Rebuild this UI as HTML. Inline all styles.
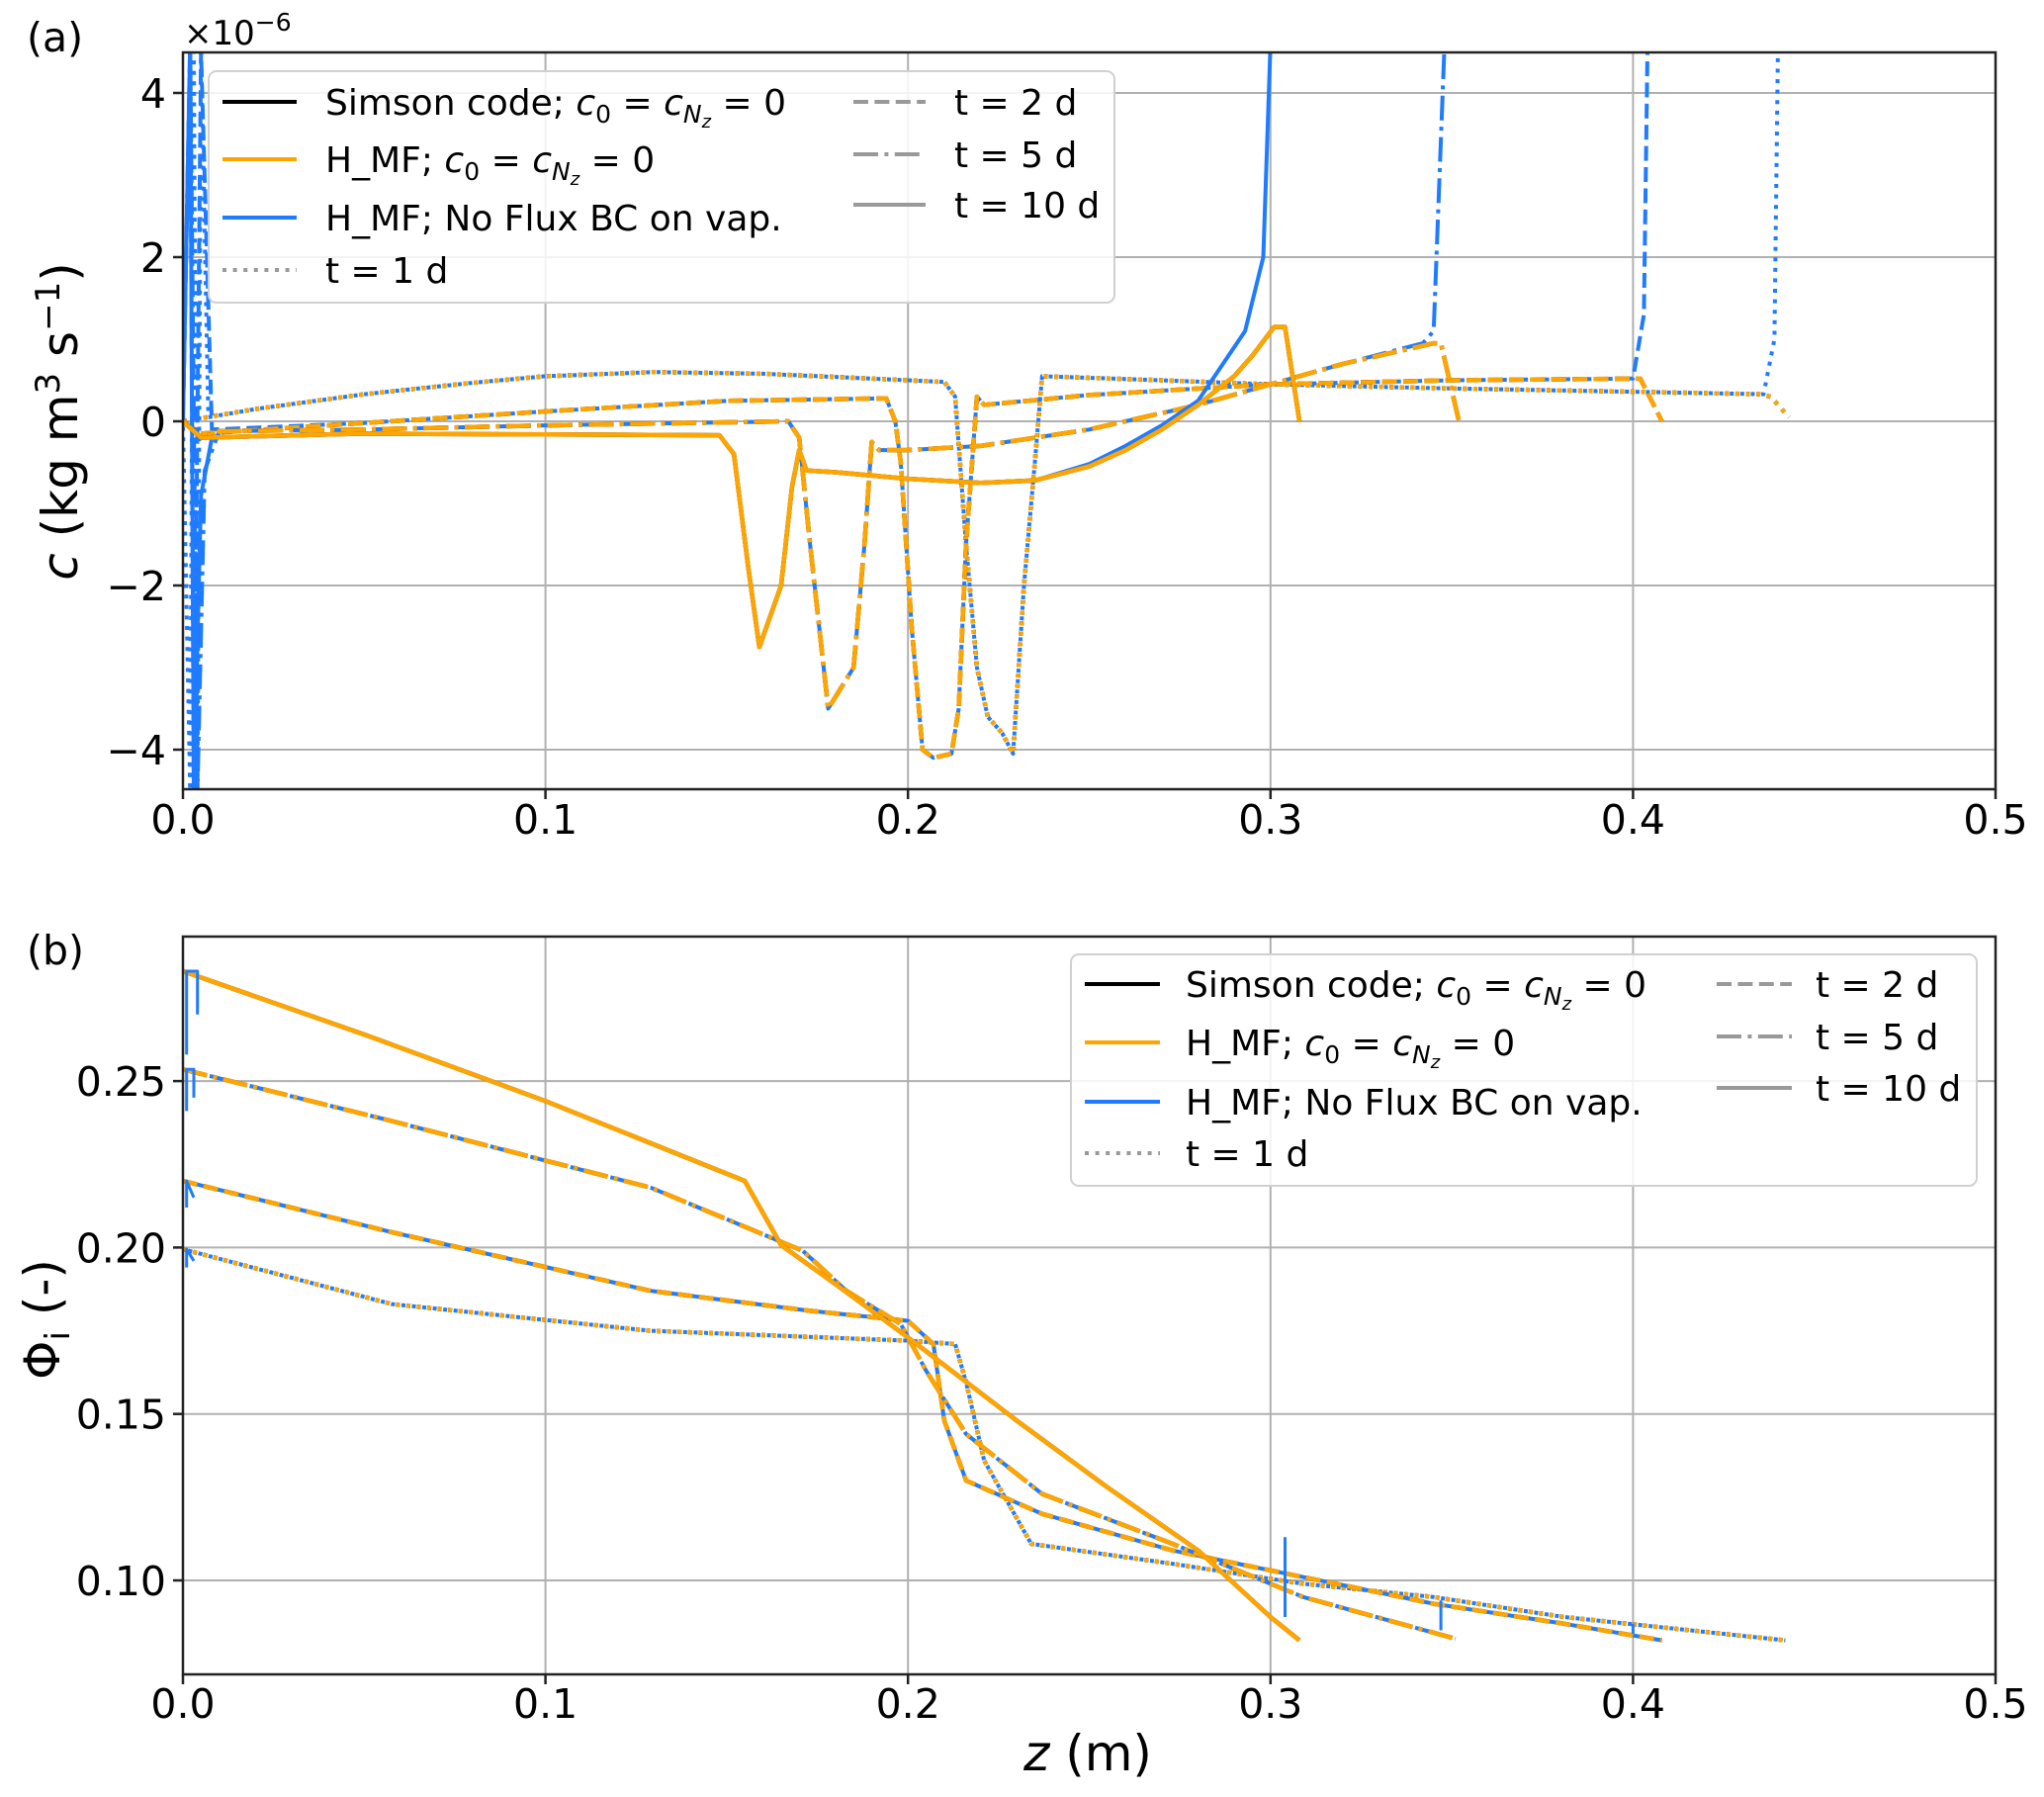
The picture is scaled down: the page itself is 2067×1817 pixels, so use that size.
<!DOCTYPE html>
<html><head><meta charset="utf-8"><style>
html,body{margin:0;padding:0;background:#fff;}
svg{display:block;font-family:"DejaVu Sans","Liberation Sans",sans-serif;}
</style></head><body>
<svg id="fig" width="2067" height="1817" viewBox="0 0 2067 1817" xmlns="http://www.w3.org/2000/svg">
<defs>
<clipPath id="clipA"><rect x="185" y="53" width="1833" height="745"/></clipPath>
<clipPath id="clipB"><rect x="185" y="947" width="1833" height="746"/></clipPath>
</defs>
<g id="gridA"></g>
<g id="gridB"></g>
<g id="seriesA" clip-path="url(#clipA)"></g>
<g id="seriesB" clip-path="url(#clipB)"></g>
<rect x="185" y="53" width="1833" height="745" fill="none" stroke="#222" stroke-width="2.5"/>
<rect x="185" y="947" width="1833" height="746" fill="none" stroke="#222" stroke-width="2.5"/>
<g id="ticks" font-size="41" fill="#000"></g>
<text x="27" y="52" font-size="41">(a)</text>
<text x="27" y="975" font-size="41">(b)</text>
<text x="186" y="45" font-size="34">×10<tspan font-size="25" dy="-14">−6</tspan></text>
<text transform="translate(78,426) rotate(-90)" text-anchor="middle" font-size="50"><tspan font-style="italic">c</tspan> (kg m<tspan font-size="34" dy="-18">3</tspan><tspan dy="18"> s</tspan><tspan font-size="34" dy="-18">−1</tspan><tspan dy="18">)</tspan></text>
<text transform="translate(60,1334) rotate(-90)" text-anchor="middle" font-size="50">Φ<tspan font-size="34" dy="10">i</tspan><tspan dy="-10"> (-)</tspan></text>
<text x="1100" y="1790" text-anchor="middle" font-size="50"><tspan font-style="italic">z</tspan> (m)</text>
<g id="legA"></g>
<g id="legB"></g>
</svg>
<script>
// ---------- data: panel (a) c (x1e-6), panel (b) phi_i ----------
const xTicks = [0, 0.1, 0.2, 0.3, 0.4, 0.5];
const xTickLabels = ["0.0","0.1","0.2","0.3","0.4","0.5"];
const yTicksA = [-4, -2, 0, 2, 4];
const yTickLabelsA = ["−4","−2","0","2","4"];
const yTicksB = [0.10, 0.15, 0.20, 0.25];
const yTickLabelsB = ["0.10","0.15","0.20","0.25"];

// panel a, t = 1 d
const a1z = [0,0.02,0.05,0.08,0.10,0.13,0.16,0.19,0.21,0.213,0.216,0.219,0.222,0.226,0.229,0.232,0.235,0.237,0.27,0.30,0.35,0.40,0.435,0.438,0.443];
const a1c = [0,0.15,0.33,0.47,0.55,0.6,0.58,0.52,0.48,0.3,-1.5,-3.0,-3.6,-3.8,-4.05,-2,-0.5,0.55,0.5,0.45,0.4,0.36,0.33,0.3,0.05];
const a1BlueZ = [0,0.002,0.003,0.004,0.005,0.007,0.02,0.05,0.08,0.10,0.13,0.16,0.19,0.21,0.213,0.216,0.219,0.222,0.226,0.229,0.232,0.235,0.237,0.27,0.30,0.35,0.40,0.436,0.439,0.440];
const a1BlueC = [0,-4.5,4.5,-4.5,4.5,0.05,0.15,0.33,0.47,0.55,0.6,0.58,0.52,0.48,0.3,-1.5,-3.0,-3.6,-3.8,-4.05,-2,-0.5,0.55,0.5,0.45,0.4,0.36,0.33,1.0,4.6];
// panel a, t = 2 d
const a2z = [0,0.005,0.05,0.10,0.15,0.194,0.1965,0.198,0.201,0.204,0.207,0.212,0.214,0.216,0.219,0.221,0.25,0.30,0.35,0.402,0.408];
const a2c = [0,-0.15,-0.02,0.12,0.25,0.28,0.0,-0.5,-2.5,-4.0,-4.1,-4.05,-3.5,-1.5,0.3,0.2,0.32,0.45,0.5,0.52,0.0];
const a2BlueZ = [0,0.002,0.003,0.005,0.008,0.05,0.10,0.15,0.194,0.1965,0.198,0.201,0.204,0.207,0.212,0.214,0.216,0.219,0.221,0.25,0.30,0.35,0.400,0.403,0.404];
const a2BlueC = [0,4.6,-4.5,4.5,-0.1,-0.02,0.12,0.25,0.28,0.0,-0.5,-2.5,-4.0,-4.1,-4.05,-3.5,-1.5,0.3,0.2,0.32,0.45,0.5,0.52,1.3,4.6];
// panel a, t = 5 d
const a5z = [0,0.005,0.01,0.05,0.10,0.167,0.170,0.173,0.178,0.185,0.188,0.190,0.192,0.20,0.22,0.25,0.28,0.30,0.32,0.345,0.347,0.352];
const a5c = [0,-0.2,-0.12,-0.1,-0.05,0.0,-0.2,-1.5,-3.5,-3.0,-1.5,-0.25,-0.35,-0.35,-0.3,-0.1,0.2,0.45,0.7,0.95,0.95,0.0];
const a5BlueZ = [0,0.002,0.004,0.006,0.01,0.05,0.10,0.167,0.170,0.173,0.178,0.185,0.188,0.190,0.192,0.20,0.22,0.25,0.28,0.30,0.32,0.342,0.345,0.348];
const a5BlueC = [0,4.6,-4.5,-0.6,-0.12,-0.1,-0.05,0.0,-0.2,-1.5,-3.5,-3.0,-1.5,-0.25,-0.35,-0.35,-0.3,-0.1,0.2,0.45,0.7,0.95,1.1,4.6];
// panel a, t = 10 d
const a10z = [0,0.005,0.05,0.10,0.148,0.152,0.156,0.159,0.165,0.168,0.170,0.172,0.18,0.20,0.22,0.235,0.25,0.26,0.27,0.28,0.29,0.295,0.301,0.304,0.308];
const a10c = [0,-0.2,-0.15,-0.16,-0.17,-0.4,-1.8,-2.75,-2.0,-0.8,-0.35,-0.6,-0.62,-0.7,-0.75,-0.72,-0.55,-0.35,-0.1,0.2,0.55,0.8,1.15,1.15,0.0];
const a10BlueZ = [0,0.002,0.003,0.005,0.008,0.05,0.10,0.148,0.152,0.156,0.159,0.165,0.168,0.170,0.172,0.18,0.20,0.22,0.235,0.25,0.26,0.27,0.28,0.293,0.298,0.300];
const a10BlueC = [0,4.6,-4.5,-0.9,-0.2,-0.15,-0.16,-0.17,-0.4,-1.8,-2.75,-2.0,-0.8,-0.35,-0.6,-0.62,-0.7,-0.75,-0.72,-0.52,-0.3,-0.05,0.25,1.1,2.0,4.6];

// panel b
const b1z = [0,0.0576,0.129,0.20,0.213,0.216,0.221,0.234,0.273,0.309,0.345,0.381,0.442];
const b1p = [0.1995,0.183,0.175,0.172,0.171,0.1596,0.136,0.111,0.105,0.099,0.095,0.089,0.082];
const b2z = [0,0.0576,0.129,0.173,0.20,0.207,0.21,0.216,0.237,0.273,0.309,0.345,0.381,0.408];
const b2p = [0.220,0.2046,0.187,0.181,0.178,0.171,0.148,0.130,0.120,0.109,0.101,0.093,0.087,0.082];
const b5z = [0,0.0576,0.129,0.171,0.183,0.198,0.205,0.216,0.237,0.273,0.309,0.351];
const b5p = [0.2535,0.238,0.218,0.199,0.187,0.177,0.163,0.144,0.126,0.111,0.095,0.0825];
const b10z = [0,0.05,0.10,0.155,0.165,0.18,0.20,0.23,0.255,0.28,0.30,0.308];
const b10p = [0.283,0.264,0.244,0.220,0.2007,0.189,0.173,0.148,0.128,0.109,0.089,0.082];
const bBlueStepZ = [[0.001,0.001,0.004,0.004],[0.001,0.001,0.003,0.003],[0.001,0.001,0.003],[0.001,0.001,0.003],[0.304,0.304],[0.347,0.347],[0.40,0.40]];
const bBlueStepP = [[0.258,0.283,0.283,0.270],[0.241,0.2535,0.2535,0.245],[0.212,0.220,0.215],[0.194,0.1995,0.196],[0.089,0.113],[0.085,0.094],[0.084,0.087]];

// ---------- scales ----------
const NS = "http://www.w3.org/2000/svg";
function X(z){ return 185 + z * 3666; }
function YA(c){ return 426 - c * 83; }
function YB(p){ return 1598 - (p - 0.10) * 3366; }

const COL = {simson:"#000000", hmf:"#FFA500", blue:"#1f7bff"};
const DASH = {t1:"4,6.6", t2:"15,6.4", t5:"25,6.4,4,6.4", t10:""};
const OFF = {t1:5, t2:10, t5:14, t10:0};

function mk(tag, attrs, parent){
  const el = document.createElementNS(NS, tag);
  for (const k in attrs) el.setAttribute(k, attrs[k]);
  parent.appendChild(el);
  return el;
}
function line(parent, zs, vs, yf, color, w, dash, name, off){
  const d = zs.map((z,i)=> (i?"L":"M") + X(z).toFixed(1) + "," + yf(vs[i]).toFixed(1)).join("");
  const p = mk("path", {d:d, fill:"none", stroke:color, "stroke-width":w, "stroke-dasharray":dash, "stroke-dashoffset":off||0, "stroke-linejoin":"round"}, parent);
  
  
  return p;
}

// grids and ticks
const gA = document.getElementById("gridA"), gB = document.getElementById("gridB"), tk = document.getElementById("ticks");
xTicks.forEach((v,i)=>{
  const gl1 = mk("line", {x1:X(v), x2:X(v), y1:53, y2:798, stroke:"#b0b0b0", "stroke-width":2}, gA);
  
  
  const gl2 = mk("line", {x1:X(v), x2:X(v), y1:947, y2:1693, stroke:"#b0b0b0", "stroke-width":2}, gB);
  
  
  mk("line", {x1:X(v), x2:X(v), y1:798, y2:808, stroke:"#222", "stroke-width":2.5}, tk);
  mk("line", {x1:X(v), x2:X(v), y1:1693, y2:1703, stroke:"#222", "stroke-width":2.5}, tk);
  const t1 = mk("text", {x:X(v), y:843, "text-anchor":"middle"}, tk); t1.textContent = xTickLabels[i];
  
  
  const t2 = mk("text", {x:X(v), y:1737, "text-anchor":"middle"}, tk); t2.textContent = xTickLabels[i];
  
  
});
yTicksA.forEach((v,i)=>{
  const gl = mk("line", {x1:185, x2:2018, y1:YA(v), y2:YA(v), stroke:"#b0b0b0", "stroke-width":2}, gA);
  
  
  mk("line", {x1:175, x2:185, y1:YA(v), y2:YA(v), stroke:"#222", "stroke-width":2.5}, tk);
  const t = mk("text", {x:168, y:YA(v)+15, "text-anchor":"end"}, tk); t.textContent = yTickLabelsA[i];
  
  
});
yTicksB.forEach((v,i)=>{
  const gl = mk("line", {x1:185, x2:2018, y1:YB(v), y2:YB(v), stroke:"#b0b0b0", "stroke-width":2}, gB);
  
  
  mk("line", {x1:175, x2:185, y1:YB(v), y2:YB(v), stroke:"#222", "stroke-width":2.5}, tk);
  const t = mk("text", {x:168, y:YB(v)+15, "text-anchor":"end"}, tk); t.textContent = yTickLabelsB[i];
  
  
});

// series panel a
const sA = document.getElementById("seriesA");
[["t1",a1z,a1c,a1BlueZ,a1BlueC],["t2",a2z,a2c,a2BlueZ,a2BlueC],["t5",a5z,a5c,a5BlueZ,a5BlueC],["t10",a10z,a10c,a10BlueZ,a10BlueC]].forEach(s=>{
  line(sA, s[1], s[2], YA, COL.simson, 4.5, DASH[s[0]], "simson-"+s[0], 0);
  line(sA, s[3], s[4], YA, COL.blue, 4, DASH[s[0]], "blue-nofluxbc-"+s[0], OFF[s[0]]);
  line(sA, s[1], s[2], YA, COL.hmf, 4.5, DASH[s[0]], "hmf-"+s[0], 0);
});
// series panel b
const sB = document.getElementById("seriesB");
[["t1",b1z,b1p],["t2",b2z,b2p],["t5",b5z,b5p],["t10",b10z,b10p]].forEach(s=>{
  line(sB, s[1], s[2], YB, COL.simson, 4.5, DASH[s[0]], "simson-"+s[0], 0);
  line(sB, s[1], s[2], YB, COL.blue, 4, DASH[s[0]], "blue-nofluxbc-"+s[0], OFF[s[0]]);
  line(sB, s[1], s[2], YB, COL.hmf, 4.5, DASH[s[0]], "hmf-"+s[0], 0);
});
bBlueStepZ.forEach((zs,i)=>{ line(sB, zs, bBlueStepP[i], YB, COL.blue, 3, "", "blue-boundary-step", 0); });

// legends
function legend(gid, box, col1, col2){
  const g = document.getElementById(gid);
  mk("rect", {x:box[0], y:box[1], width:box[2], height:box[3], rx:8, fill:"#fff", "fill-opacity":0.85, stroke:"#d0d0d0", "stroke-width":2}, g);
  [col1, col2].forEach(col=>{
    col.items.forEach((it,i)=>{
      const y = col.rows[i];
      const h = mk("line", {x1:col.hx[0], x2:col.hx[1], y1:y, y2:y, stroke:it.c, "stroke-width":4, "stroke-dasharray":it.d}, g);
      
      
      const t = mk("text", {x:col.tx, y:y+13, "font-size":36}, g);
      t.innerHTML = it.label;
      
      
    });
  });
}
const lab1 = 'Simson code; <tspan font-style="italic">c</tspan><tspan font-size="25" dy="8">0</tspan><tspan dy="-8"> = </tspan><tspan font-style="italic">c</tspan><tspan font-size="25" dy="8" font-style="italic">N</tspan><tspan font-size="18" dy="5" font-style="italic">z</tspan><tspan dy="-13"> = 0</tspan>';
const lab2 = 'H_MF; <tspan font-style="italic">c</tspan><tspan font-size="25" dy="8">0</tspan><tspan dy="-8"> = </tspan><tspan font-style="italic">c</tspan><tspan font-size="25" dy="8" font-style="italic">N</tspan><tspan font-size="18" dy="5" font-style="italic">z</tspan><tspan dy="-13"> = 0</tspan>';
const items1 = [{c:"#000",d:"",label:lab1},{c:"#FFA500",d:"",label:lab2},{c:"#1f7bff",d:"",label:"H_MF; No Flux BC on vap."},{c:"#999",d:DASH.t1,label:"t = 1 d"}];
const items2 = [{c:"#999",d:DASH.t2,label:"t = 2 d"},{c:"#999",d:DASH.t5,label:"t = 5 d"},{c:"#999",d:"",label:"t = 10 d"}];
legend("legA", [211,72,916,234], {items:items1, rows:[103,161,220,273], hx:[225,300], tx:329}, {items:items2, rows:[103,156,207], hx:[863,936], tx:965});
legend("legB", [1083,965,916,234], {items:items1, rows:[995,1054,1114,1166], hx:[1097,1173], tx:1199}, {items:items2, rows:[995,1048,1100], hx:[1736,1812], tx:1836});
</script>
</body></html>
